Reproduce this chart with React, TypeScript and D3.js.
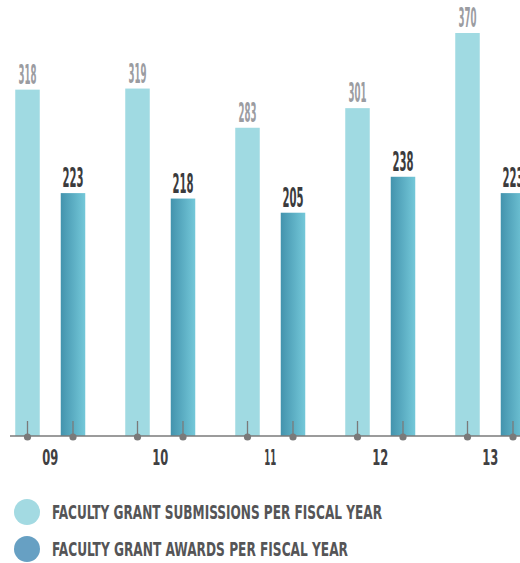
import React from "react";
import * as d3 from "d3";

const years = ["09", "10", "11", "12", "13"];
const submissions = [318, 319, 283, 301, 370];
const awards = [223, 218, 205, 238, 223];
const seriesKeys = ["sub", "awd"];
const legendLabels = [
  "FACULTY GRANT SUBMISSIONS PER FISCAL YEAR",
  "FACULTY GRANT AWARDS PER FISCAL YEAR",
];

const W = 520;
const H = 563;
const baseY = 436;
const FONT = "'Liberation Sans Narrow', 'DejaVu Sans Condensed', 'Liberation Sans', sans-serif";

export default function App() {
  const x = d3.scaleBand<string>().domain(years).range([4, 554]).padding(0);
  const inner = d3.scalePoint<string>().domain(seriesKeys).range([23.5, 69]);
  const y = d3.scaleLinear().domain([0, 370]).range([baseY, 33]);
  const barW = 24.5;

  const series = [
    { key: "sub", values: submissions, fill: "#a0dae2", label: "#9b9ca1", weight: 700, tl: 18, fs: 26 },
    { key: "awd", values: awards, fill: "url(#awdGrad)", label: "#3b3b3d", weight: 700, tl: 21, fs: 27 },
  ];

  return (
    <svg
      width={W}
      height={H}
      style={{ position: "absolute", left: 0, top: 0, background: "#fff" }}
    >
      <defs>
        <linearGradient id="awdGrad" x1="0" x2="1" y1="0" y2="0">
          <stop offset="0" stopColor="#4393ad" />
          <stop offset="1" stopColor="#74c8d9" />
        </linearGradient>
      </defs>

      {series.map((s) =>
        years.map((yr, i) => {
          const cx = (x(yr) as number) + (inner(s.key) as number);
          const v = s.values[i];
          return (
            <g key={s.key + yr}>
              <rect
                x={cx - barW / 2}
                y={y(v)}
                width={barW}
                height={baseY - y(v)}
                fill={s.fill}
              />
              <text
                x={cx}
                y={y(v) - 6}
                textAnchor="middle"
                fontFamily={FONT}
                fontWeight={s.weight}
                fontSize={s.fs}
                fill={s.label}
                textLength={s.tl}
                lengthAdjust="spacingAndGlyphs"
              >
                {v}
              </text>
            </g>
          );
        })
      )}

      <line x1={10} x2={520} y1={baseY} y2={baseY} stroke="#7a7a7a" strokeWidth={1.5} />

      {years.map((yr) =>
        seriesKeys.map((k) => {
          const cx = (x(yr) as number) + (inner(k) as number);
          return (
            <g key={"t" + yr + k}>
              <line x1={cx} x2={cx} y1={421} y2={baseY} stroke="#7a7a7a" strokeWidth={1.3} />
              <circle cx={cx} cy={baseY + 1} r={3.6} fill="#7a7a7a" />
            </g>
          );
        })
      )}

      {years.map((yr) => {
        const cx =
          (x(yr) as number) + ((inner("sub") as number) + (inner("awd") as number)) / 2;
        return (
          <text
            key={"y" + yr}
            x={cx}
            y={465}
            textAnchor="middle"
            fontFamily={FONT}
            fontWeight={700}
            fontSize={21}
            fill="#404042"
            textLength={yr === "11" ? 12 : 16}
            lengthAdjust="spacingAndGlyphs"
          >
            {yr}
          </text>
        );
      })}

      {legendLabels.map((lab, i) => (
        <g key={"l" + i}>
          <circle cx={27} cy={512 + i * 37} r={13} fill={i === 0 ? "#a3dae2" : "#67a0c3"} />
          <text
            x={52}
            y={518.5 + i * 37}
            fontFamily={FONT}
            fontWeight={700}
            fontSize={19}
            fill="#555557"
            textLength={i === 0 ? 330 : 296}
            lengthAdjust="spacingAndGlyphs"
          >
            {lab}
          </text>
        </g>
      ))}
    </svg>
  );
}
